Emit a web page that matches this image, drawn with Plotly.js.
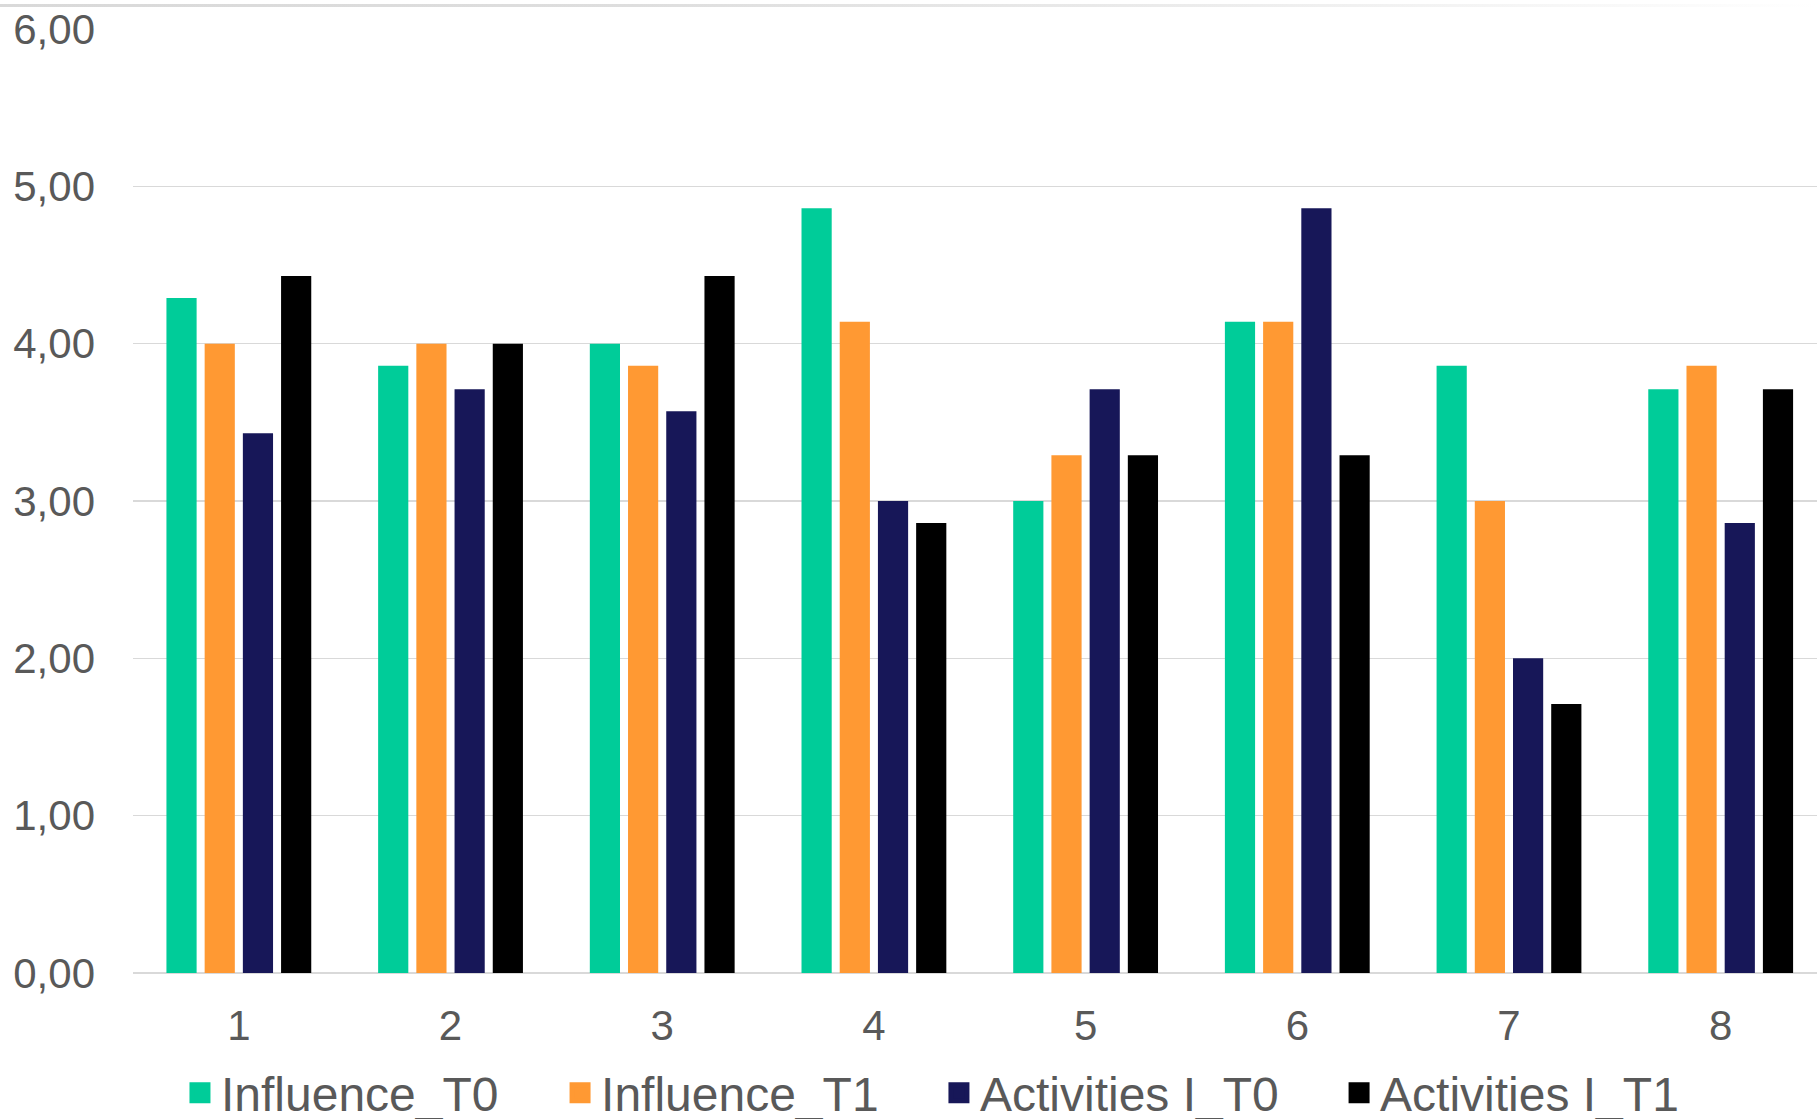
<!DOCTYPE html>
<html>
<head>
<meta charset="utf-8">
<script src="https://cdn.plot.ly/plotly-3.0.1.min.js"></script>
<style>
html, body { margin: 0; padding: 0; background: #ffffff; }
#chart { width: 1817px; height: 1119px; }
#topbar { position: absolute; left: 0; top: 4px; width: 1817px; height: 3px; z-index: 5;
  background: linear-gradient(to right, #d9d9d9 0%, #dedede 35%, #e9e9e9 60%, #f4f4f4 80%, #fcfcfc 95%, #ffffff 100%); }
</style>
</head>
<body>
<div id="topbar"></div>
<div id="chart"></div>
<script>
// ---- data ----
const categories = ['1', '2', '3', '4', '5', '6', '7', '8'];
const seriesNames = ['Influence_T0', 'Influence_T1', 'Activities I_T0', 'Activities I_T1'];
const influenceT0 = [4.29, 3.86, 4.00, 4.86, 3.00, 4.14, 3.86, 3.71];
const influenceT1 = [4.00, 4.00, 3.86, 4.14, 3.29, 4.14, 3.00, 3.86];
const activitiesT0 = [3.43, 3.71, 3.57, 3.00, 3.71, 4.86, 2.00, 2.86];
const activitiesT1 = [4.43, 4.00, 4.43, 2.86, 3.29, 3.29, 1.71, 3.71];
const yTicks = [0, 1, 2, 3, 4, 5, 6];

// ---- styles ----
const colors = ['#00CC99', '#FF9933', '#171758', '#000000'];
const seriesValues = [influenceT0, influenceT1, activitiesT0, activitiesT1];
const legendIds = ['legend', 'legend2', 'legend3', 'legend4'];
const legendX = [0.0273, 0.253, 0.478, 0.7156];
const textColor = '#595959';
const fontFamily = 'Liberation Sans, Arial, Helvetica, sans-serif';

const traces = [];
seriesNames.forEach(function (name, i) {
  traces.push({
    type: 'bar',
    name: name,
    x: categories,
    y: seriesValues[i],
    marker: { color: colors[i] },
    showlegend: false,
    legendgroup: name,
    hoverinfo: 'x+y+name'
  });
});
// legend entries (larger square symbols than bar legend glyphs)
seriesNames.forEach(function (name, i) {
  traces.push({
    type: 'scatter',
    mode: 'markers',
    name: name,
    x: [null],
    y: [null],
    marker: { symbol: 'square', size: 16, color: colors[i], line: { color: colors[i], width: 5 } },
    legend: legendIds[i] === 'legend' ? undefined : legendIds[i],
    legendgroup: name,
    showlegend: true,
    hoverinfo: 'skip'
  });
});

const legendBase = {
  orientation: 'h',
  xanchor: 'left',
  yanchor: 'middle',
  y: -0.1271,
  itemwidth: 32,
  bgcolor: 'rgba(0,0,0,0)',
  borderwidth: 0,
  font: { family: fontFamily, size: 48, color: textColor }
};

const layout = {
  width: 1817,
  height: 1119,
  paper_bgcolor: '#ffffff',
  plot_bgcolor: '#ffffff',
  separators: ', ',
  font: { family: fontFamily, color: textColor },
  margin: { l: 133, r: 0, t: 29, b: 146, pad: 0, autoexpand: false },
  barmode: 'group',
  bargap: 0.278,
  bargroupgap: 0.21,
  xaxis: {
    type: 'category',
    categoryorder: 'array',
    categoryarray: categories,
    range: [-0.5, 7.455],
    showgrid: false,
    zeroline: false,
    showline: false,
    ticks: '',
    ticklabelstandoff: 24,
    tickfont: { family: fontFamily, size: 42, color: textColor },
    fixedrange: true
  },
  yaxis: {
    range: [0, 6],
    tickmode: 'array',
    tickvals: yTicks,
    tickformat: '.2f',
    showgrid: true,
    gridcolor: '#d9d9d9',
    gridwidth: 1.5,
    zeroline: true,
    zerolinecolor: '#d9d9d9',
    zerolinewidth: 2,
    showline: false,
    ticks: '',
    ticklabelstandoff: 37,
    tickfont: { family: fontFamily, size: 42, color: textColor },
    fixedrange: true
  },
  showlegend: true
};
legendIds.forEach(function (id, i) {
  layout[id] = Object.assign({}, legendBase, { x: legendX[i] });
});

Plotly.newPlot('chart', traces, layout, { displayModeBar: false, staticPlot: true });
</script>
</body>
</html>
